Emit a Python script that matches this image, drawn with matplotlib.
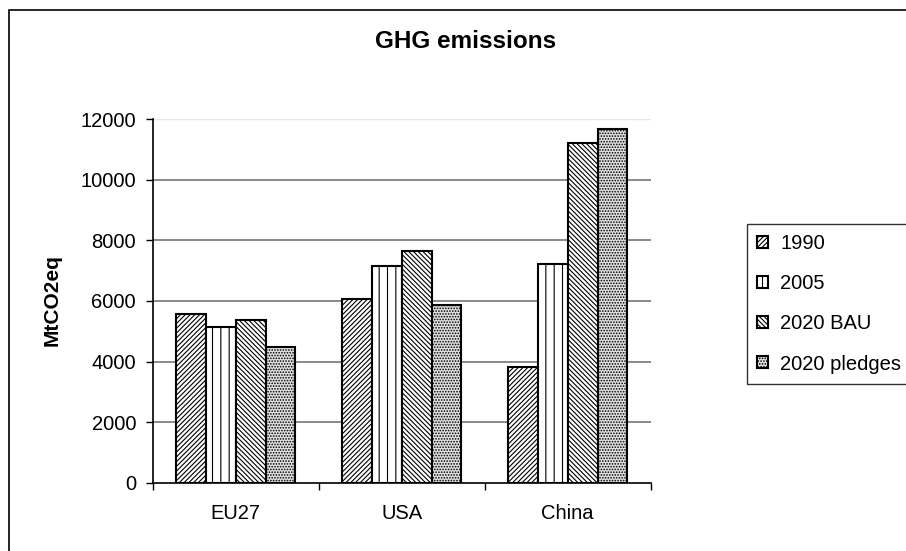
import numpy as np
import matplotlib.pyplot as plt
from matplotlib.patches import Rectangle

plt.rcParams['font.family'] = ['Liberation Sans', 'DejaVu Sans']
plt.rcParams['hatch.linewidth'] = 0.8

regions = ["EU27", "USA", "China"]
series = ["1990", "2005", "2020 BAU", "2020 pledges"]
em_1990 = [5560, 6070, 3830]
em_2005 = [5150, 7140, 7210]
em_bau = [5360, 7660, 11230]
em_pledges = [4490, 5880, 11690]
yticks = [0, 2000, 4000, 6000, 8000, 10000, 12000]

values = [em_1990, em_2005, em_bau, em_pledges]
hatches = ['///////', '||', '\\\\\\\\\\\\\\', '......']
faces = ['white', 'white', 'white', '#e0e0e0']

fig = plt.figure(figsize=(9.06, 5.51), dpi=100)
ax = fig.add_axes([152.7 / 906, 1 - 482.7 / 551, 498 / 906, 363.4 / 551])

# outer chart frame (cut off at right and bottom like the original)
fig.patches.append(Rectangle((9 / 906, -0.05), 1.2, 1 - 10 / 551 + 0.05,
                             transform=fig.transFigure, fill=False,
                             edgecolor='black', linewidth=1.2))

x = np.arange(len(regions))
w = 0.18
for i, (vals, h, fc, lab) in enumerate(zip(values, hatches, faces, series)):
    ax.bar(x + (i - 1.5) * w, vals, w, facecolor=fc, edgecolor='black',
           hatch=h, linewidth=1.5, label=lab, zorder=3)

ax.set_xlim(-0.5, 2.5)
ax.set_ylim(0, 12000)
ax.set_yticks(yticks)
ax.set_yticklabels([str(t) for t in yticks])
ax.set_xticks(x)
ax.set_xticklabels(regions)
ax.set_xticks([-0.5, 0.5, 1.5, 2.5], minor=True)
ax.tick_params(axis='x', which='major', length=0, pad=15, labelsize=14.5)
ax.tick_params(axis='x', which='minor', length=5, direction='out', width=1)
ax.tick_params(axis='y', length=5, width=1, pad=7, labelsize=14.5)

for t in yticks[1:-1]:
    ax.axhline(t, color='#808080', linewidth=1.3, zorder=1)
ax.axhline(12000, color='#e6e6e6', linewidth=1.0, zorder=1)

for s in ['top', 'right']:
    ax.spines[s].set_visible(False)
ax.spines['left'].set_linewidth(1.2)
ax.spines['bottom'].set_linewidth(1.2)

fig.text(466 / 906, 1 - 42 / 551, "GHG emissions", ha='center', va='center',
         fontsize=17.5, fontweight='bold')
fig.text(52 / 906, 1 - 300 / 551, "MtCO2eq", ha='center', va='center',
         rotation=90, fontsize=15, fontweight='bold')

leg = ax.legend(loc='upper left', bbox_to_anchor=(747 / 906, 1 - 224 / 551),
                bbox_transform=fig.transFigure, fontsize=14.5, frameon=True,
                fancybox=False, edgecolor='black', handlelength=0.55,
                handleheight=0.55, handletextpad=0.6, labelspacing=1.05,
                borderpad=0.5, borderaxespad=0)
leg.get_frame().set_linewidth(1.0)

fig.savefig("out.png", dpi=100)
